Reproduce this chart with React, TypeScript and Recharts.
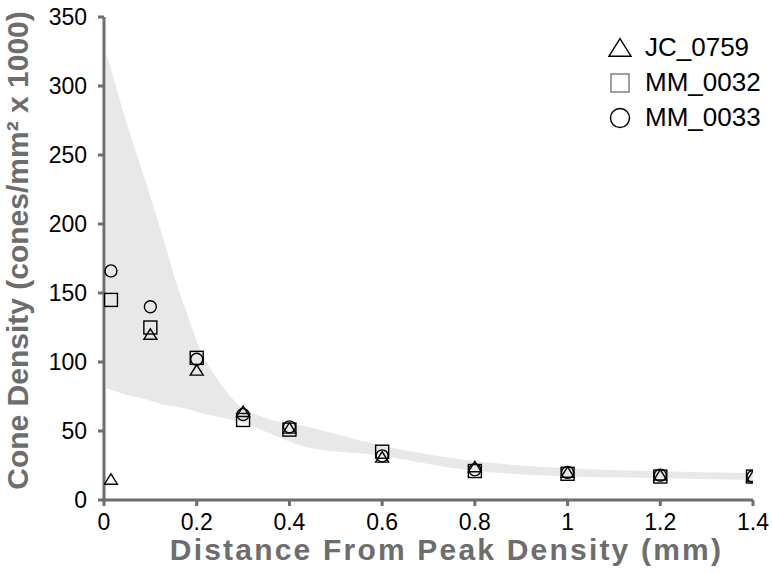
import React from 'react';
import {
  ComposedChart,
  Area,
  Scatter,
  XAxis,
  YAxis,
  Label,
} from 'recharts';

// sample distances (mm)
const distances = [0.015, 0.1, 0.2, 0.3, 0.4, 0.6, 0.8, 1.0, 1.2, 1.4];
const jc0759 = [15, 120, 94, 64, 52, 31, 24, 20, 18, 17];
const mm0032 = [145, 125, 103, 58, 51, 35, 21, 19, 17, 17];
const mm0033 = [166, 140, 102, 62, 53, 32, 22, 20, 18, 17];

// grey normal range band
const bandX = [0.005, 0.05, 0.1, 0.13, 0.15, 0.18, 0.21, 0.25, 0.29, 0.345, 0.44, 0.59, 0.78, 1.0, 1.18, 1.4];
const bandHigh = [324, 272, 220, 187, 164, 134, 107, 85, 69, 60, 53, 40, 29, 23, 21, 19.5];
const bandLow = [81, 76, 72, 69, 68, 66, 63, 60, 57, 50, 38, 32.5, 22, 17, 16, 14.5];

const xTicks = [0, 0.2, 0.4, 0.6, 0.8, 1, 1.2, 1.4];
const yTicks = [0, 50, 100, 150, 200, 250, 300, 350];

const seriesNames = ['JC_0759', 'MM_0032', 'MM_0033'];

const FONT = '"Liberation Sans", Arial, sans-serif';
const AXIS_GREY = '#6d6d6d';

const bandData = bandX.map((x, i) => ({ x, range: [bandLow[i], bandHigh[i]] }));
const toPoints = (vals: number[]) => distances.map((x, i) => ({ x, y: vals[i] }));

const Triangle = (props: any) => {
  const { cx, cy } = props;
  const s = props.s ?? 6.5;
  return (
    <path
      d={`M${cx},${cy - s * 0.85} L${cx + s},${cy + s * 0.75} L${cx - s},${cy + s * 0.75} Z`}
      fill="none"
      stroke="#000"
      strokeWidth={1.4}
    />
  );
};

const Square = (props: any) => {
  const { cx, cy } = props;
  const s = props.s ?? 6.5;
  return (
    <rect x={cx - s} y={cy - s} width={s * 2} height={s * 2} fill="none" stroke={props.color ?? '#000'} strokeWidth={1.4} />
  );
};

const Circle = (props: any) => {
  const { cx, cy } = props;
  const s = props.s ?? 6;
  return <circle cx={cx} cy={cy} r={s} fill="none" stroke="#000" strokeWidth={1.4} />;
};

const LegendBox = () => {
  const icons = [
    <Triangle cx={12} cy={12} s={11} />,
    <Square cx={12} cy={12} s={9} color="#777" />,
    <Circle cx={12} cy={12} s={9.5} />,
  ];
  return (
    <div style={{ position: 'absolute', left: 608, top: 30, fontFamily: FONT, fontSize: 26, color: '#000' }}>
      {seriesNames.map((name, i) => (
        <div key={name} style={{ display: 'flex', alignItems: 'center', height: 35 }}>
          <svg width={24} height={24} style={{ marginRight: 13 }}>
            {icons[i]}
          </svg>
          <span>{name}</span>
        </div>
      ))}
    </div>
  );
};

const XTitle = (props: any) => {
  const { viewBox } = props;
  const cx = viewBox.x + viewBox.width / 2 + 18;
  return (
    <text
      x={cx}
      y={560}
      textAnchor="middle"
      fill={AXIS_GREY}
      fontSize={30}
      fontWeight="bold"
      fontFamily={FONT}
      letterSpacing={2.2}
    >
      Distance From Peak Density (mm)
    </text>
  );
};

const YTitle = (props: any) => {
  const { viewBox } = props;
  const cx = 28;
  const cy = viewBox.y + viewBox.height / 2 - 8;
  return (
    <text
      x={cx}
      y={cy}
      transform={`rotate(-90 ${cx} ${cy})`}
      textAnchor="middle"
      fill={AXIS_GREY}
      fontSize={30}
      fontWeight="bold"
      fontFamily={FONT}
    >
      Cone Density (cones/mm² x 1000)
    </text>
  );
};

export default function App() {
  return (
    <div style={{ position: 'absolute', left: 0, top: 0, width: 772, height: 574, background: '#fff' }}>
      <ComposedChart
        width={772}
        height={574}
        data={bandData}
        margin={{ top: 17, right: 19, bottom: 0, left: 0 }}
      >
        <XAxis
          dataKey="x"
          type="number"
          domain={[0, 1.4]}
          ticks={xTicks}
          allowDataOverflow
          height={74}
          stroke={AXIS_GREY}
          strokeWidth={3}
          tickSize={6}
          tickMargin={8}
          tick={{ fill: '#000', fontSize: 23, fontFamily: FONT }}
        >
          <Label content={<XTitle />} />
        </XAxis>
        <YAxis
          dataKey="y"
          type="number"
          domain={[0, 350]}
          ticks={yTicks}
          allowDataOverflow
          width={104}
          stroke={AXIS_GREY}
          strokeWidth={3}
          tickSize={6}
          tickMargin={11}
          tick={{ fill: '#000', fontSize: 23, fontFamily: FONT }}
        >
          <Label content={<YTitle />} />
        </YAxis>
        <Area
          dataKey="range"
          type="monotone"
          stroke="none"
          fill="#e8e8e8"
          fillOpacity={1}
          isAnimationActive={false}
        />
        <Scatter name="JC_0759" data={toPoints(jc0759)} shape={<Triangle />} isAnimationActive={false} />
        <Scatter name="MM_0032" data={toPoints(mm0032)} shape={<Square />} isAnimationActive={false} />
        <Scatter name="MM_0033" data={toPoints(mm0033)} shape={<Circle />} isAnimationActive={false} />
      </ComposedChart>
      <LegendBox />
    </div>
  );
}
